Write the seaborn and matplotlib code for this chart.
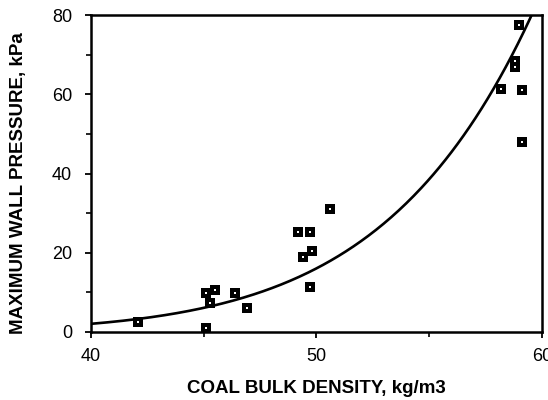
import numpy as np
import pandas as pd
import matplotlib
matplotlib.use("Agg")
import matplotlib.pyplot as plt
import seaborn as sns

# Measured coal bulk density (kg/m3) and maximum wall pressure (kPa)
density = [42.1, 45.1, 45.1, 45.5, 45.3, 46.4, 46.9,
           49.2, 49.7, 49.4, 49.8, 49.7, 50.6,
           58.2, 58.8, 58.8, 59.0, 59.1, 59.1]
pressure = [2.5, 1.1, 9.8, 10.6, 7.4, 9.8, 6.1,
            25.2, 25.2, 18.9, 20.5, 11.3, 31.1,
            61.3, 66.8, 68.4, 77.4, 61.1, 47.9]

x_ticks = [40, 50, 60]
y_ticks = [0, 20, 40, 60, 80]

sns.set_theme(style="white")
plt.rcParams["font.family"] = ["Liberation Sans", "DejaVu Sans"]

df = pd.DataFrame({"density": density, "pressure": pressure})

# Power-law trend: pressure = a * density ** b (least squares in log-log space)
b, ln_a = np.polyfit(np.log(df["density"]), np.log(df["pressure"]), 1)
curve_x = np.linspace(40, 60, 300)
curve = pd.DataFrame({"density": curve_x, "pressure": np.exp(ln_a) * curve_x ** b})

fig = plt.figure(figsize=(5.48, 4.0), dpi=100)
ax = fig.add_axes([0.166, 0.17, 0.823, 0.7925])

sns.lineplot(data=curve, x="density", y="pressure", ax=ax, color="black",
             linewidth=1.9, zorder=2)
sns.scatterplot(data=df, x="density", y="pressure", ax=ax, marker="s", s=58,
                color="black", edgecolor="black", linewidth=0, zorder=3)
sns.scatterplot(data=df, x="density", y="pressure", ax=ax, marker="s", s=2.5,
                color="white", edgecolor="white", linewidth=0, zorder=4)

ax.set_xlim(40, 60)
ax.set_ylim(0, 80)
ax.set_xticks(x_ticks)
ax.set_yticks(y_ticks)
ax.set_xticks([45, 55], minor=True)
ax.set_yticks([10, 30, 50, 70], minor=True)
ax.tick_params(axis="both", which="major", direction="out", length=4.5, width=1.3,
               color="black", labelsize=13, labelcolor="black",
               bottom=True, left=True)
ax.tick_params(axis="x", which="major", pad=7)
ax.tick_params(axis="y", which="major", pad=9)
ax.tick_params(axis="both", which="minor", direction="out", length=3.5, width=1.2,
               color="black", bottom=True, left=True)

for side in ["left", "right", "top", "bottom"]:
    ax.spines[side].set_visible(True)
    ax.spines[side].set_color("black")
    ax.spines[side].set_linewidth(1.8)

ax.set_xlabel("COAL BULK DENSITY, kg/m3", fontsize=13.5, fontweight="bold",
              color="black")
ax.set_ylabel("MAXIMUM WALL PRESSURE, kPa", fontsize=13.5, fontweight="bold",
              color="black")
ax.xaxis.set_label_coords(0.5, -0.15)
ax.yaxis.set_label_coords(-0.142, 0.47)
ax.grid(False)

fig.savefig("out.png", dpi=100)
